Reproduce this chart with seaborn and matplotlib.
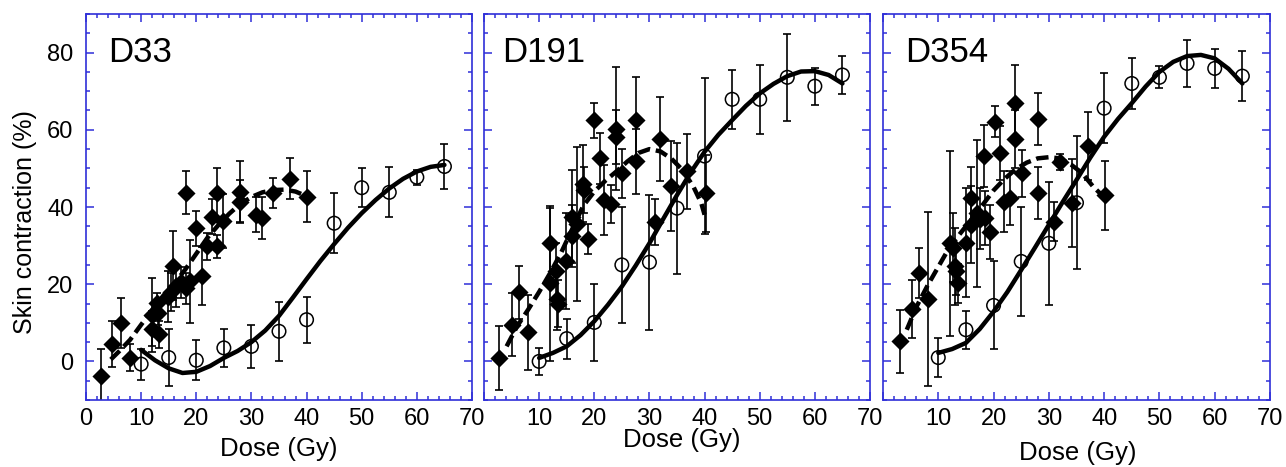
import numpy as np
import pandas as pd
import matplotlib
matplotlib.use("Agg")
import matplotlib.pyplot as plt
import seaborn as sns
from matplotlib.ticker import MultipleLocator

sns.set_theme(style="white")
plt.rcParams["font.family"] = ["Liberation Sans", "DejaVu Sans"]
plt.rcParams["text.color"] = "black"
plt.rcParams["axes.labelcolor"] = "black"

BLUE = "#2f2fd8"

# ---- data ----
panel_names = ["D33", "D191", "D354"]

# open circles (same doses in all three panels)
circ_dose = [10, 15, 20, 25, 30, 35, 40, 45, 50, 55, 60, 65]
d33_circ_val = [-0.7, 1.0, 0.3, 3.5, 3.9, 7.8, 10.8, 35.8, 45.0, 43.8, 47.7, 50.5]
d33_circ_err = [4.0, 7.3, 5.2, 5.0, 5.6, 7.7, 6.0, 7.8, 5.1, 6.5, 2.0, 5.8]
d191_circ_val = [0.0, 5.9, 10.1, 25.0, 25.7, 39.7, 53.2, 67.9, 67.9, 73.6, 71.3, 74.2]
d191_circ_err = [3.6, 5.2, 10.0, 15.0, 17.5, 17.0, 20.3, 7.7, 9.0, 11.2, 4.8, 4.9]
d354_circ_val = [1.0, 8.2, 14.5, 25.9, 30.6, 41.1, 65.6, 72.0, 73.6, 77.2, 75.9, 73.9]
d354_circ_err = [5.0, 4.9, 11.4, 14.2, 16.0, 17.2, 9.0, 6.5, 2.8, 6.0, 5.0, 6.5]

# filled diamonds
d33_dia_dose = [2.8, 4.8, 6.3, 7.9, 11.9, 12.0, 12.8, 13.1, 13.3, 14.8, 15.5, 15.8,
                16.4, 17.2, 18.1, 18.1, 18.9, 19.9, 21.0, 21.9, 22.9, 23.8, 23.7,
                24.9, 27.9, 28.0, 30.8, 32.0, 34.0, 37.0, 40.0]
d33_dia_val = [-3.9, 4.5, 9.9, 1.0, 12.0, 8.5, 15.1, 12.5, 7.0, 16.8, 18.0, 24.8,
               19.5, 20.5, 19.0, 43.7, 20.7, 34.5, 22.2, 29.8, 37.5, 29.8, 43.7,
               36.4, 44.0, 41.4, 38.0, 37.1, 43.6, 47.3, 42.7]
d33_dia_err = [7.2, 6.0, 6.5, 3.4, 9.5, 4.5, 2.5, 3.0, 3.5, 6.5, 5.0, 9.0,
               5.5, 4.0, 4.0, 5.5, 10.8, 4.5, 7.5, 3.5, 4.5, 3.0, 6.5,
               7.0, 8.0, 5.5, 4.5, 5.5, 3.8, 5.3, 6.5]

d191_dia_dose = [2.7, 5.0, 6.4, 7.9, 12.0, 12.0, 13.1, 13.2, 13.4, 14.9, 15.9, 15.9,
                 16.8, 18.0, 18.1, 18.9, 19.9, 21.0, 21.8, 23.0, 23.9, 23.9, 25.0,
                 27.6, 27.6, 31.0, 32.0, 33.9, 36.9, 40.2]
d191_dia_val = [0.9, 9.5, 17.9, 7.5, 30.7, 20.2, 23.3, 16.1, 15.0, 26.0, 37.5, 32.5,
                35.6, 46.0, 44.4, 31.7, 62.5, 52.6, 41.8, 40.8, 60.3, 58.1, 48.7,
                62.6, 51.8, 36.2, 57.6, 45.5, 49.3, 43.6]
d191_dia_err = [8.2, 8.2, 6.9, 9.6, 9.0, 20.0, 7.5, 8.0, 6.0, 12.5, 12.0, 8.0,
                20.0, 10.0, 6.0, 4.0, 4.5, 6.7, 9.0, 5.0, 16.0, 7.0, 6.3,
                11.0, 8.4, 6.0, 10.8, 11.7, 9.7, 10.0]

d354_dia_dose = [3.0, 5.2, 6.6, 8.1, 12.1, 12.6, 13.0, 13.2, 13.6, 15.0, 15.9, 16.0,
                 17.0, 17.6, 18.2, 18.4, 19.3, 20.2, 21.1, 21.9, 23.0, 23.9, 23.9,
                 25.1, 28.1, 28.1, 31.0, 32.1, 34.1, 37.1, 40.2]
d354_dia_val = [5.2, 13.5, 22.9, 16.1, 30.6, 29.5, 24.6, 23.3, 20.2, 30.8, 42.3, 35.4,
                38.4, 37.0, 53.2, 37.1, 33.6, 62.1, 53.9, 41.4, 42.3, 66.9, 57.5,
                48.7, 62.8, 43.7, 36.2, 51.7, 41.1, 55.8, 43.0]
d354_dia_err = [8.2, 7.5, 6.6, 22.6, 24.0, 9.0, 10.0, 6.0, 5.0, 14.0, 8.0, 10.0,
                19.0, 8.0, 8.0, 7.0, 7.0, 4.0, 7.0, 8.0, 7.0, 10.0, 7.5,
                6.0, 6.7, 6.7, 5.0, 2.0, 11.4, 8.8, 9.0]

# solid fit curves (open circles)
solid_dose = [10, 12.5, 15, 17.5, 20, 22.5, 25, 27.5, 30, 32.5, 35, 37.5, 40,
              42.5, 45, 47.5, 50, 52.5, 55, 57.5, 60, 62.5, 65]
d33_solid = [3.0, 0.3, -1.8, -3.0, -2.7, -1.2, 0.9, 2.7, 5.0, 8.0, 11.8, 16.5, 21.3,
             26.0, 30.4, 34.6, 38.4, 41.8, 44.8, 47.3, 49.2, 50.4, 50.9]
d191_solid = [0.9, 2.2, 3.9, 6.8, 10.4, 14.7, 19.4, 24.8, 30.6, 36.9, 43.1, 49.0, 54.3,
              58.7, 62.5, 66.2, 69.4, 71.9, 73.9, 75.1, 75.2, 74.2, 72.0]
d354_solid = [2.2, 3.2, 4.8, 8.4, 12.9, 18.0, 23.7, 29.5, 35.4, 41.3, 47.0, 52.8, 58.2,
              62.8, 66.9, 71.2, 75.0, 77.6, 79.1, 79.4, 78.5, 75.8, 72.0]

# dashed fit curves (filled diamonds)
d33_dash_dose = [4.5, 6, 8, 10, 12, 14, 16, 18, 20, 22, 24, 26, 28, 30, 32, 34, 36, 38, 40]
d33_dash = [0.5, 2.6, 5.6, 9.5, 13.3, 17.0, 20.2, 23.8, 27.9, 32.0, 35.3, 38.3, 40.8,
            42.6, 43.8, 44.4, 44.5, 44.0, 42.8]
d191_dash_dose = [4.1, 6, 8, 10, 12, 14, 16, 18, 20, 22, 24, 26, 28, 30, 32, 34, 36, 38, 39.4, 40]
d191_dash = [3.9, 9.1, 13.4, 18.0, 22.9, 28.2, 34.3, 40.3, 44.0, 46.8, 49.2, 51.8, 54.0,
             55.0, 54.4, 52.5, 49.6, 45.2, 41.0, 38.0]
d354_dash_dose = [4.3, 6, 8, 10, 12, 14, 16, 18, 20, 22, 24, 26, 28, 30, 32, 34, 36, 38, 40]
d354_dash = [8.2, 14.0, 19.5, 24.5, 29.5, 33.2, 36.8, 40.5, 44.3, 47.3, 49.8, 51.5, 52.6,
             52.9, 52.6, 51.0, 48.8, 45.3, 42.5]

panels = [
    (d33_dia_dose, d33_dia_val, d33_dia_err, d33_circ_val, d33_circ_err,
     d33_solid, d33_dash_dose, d33_dash),
    (d191_dia_dose, d191_dia_val, d191_dia_err, d191_circ_val, d191_circ_err,
     d191_solid, d191_dash_dose, d191_dash),
    (d354_dia_dose, d354_dia_val, d354_dia_err, d354_circ_val, d354_circ_err,
     d354_solid, d354_dash_dose, d354_dash),
]

fig = plt.figure(figsize=(12.86, 4.67), dpi=100)
lefts = [86, 484, 883]
widths = [386, 386, 387]
xlab_pos = [(0.5, -0.145), (0.513, -0.122), (0.504, -0.155)]
title_x = [0.058, 0.046, 0.057]

for i, (name, p) in enumerate(zip(panel_names, panels)):
    dia_d, dia_v, dia_e, circ_v, circ_e, solid_v, dash_d, dash_v = p
    ax = fig.add_axes([lefts[i] / 1286, 1 - 400 / 467, widths[i] / 1286, 386 / 467])

    dia = pd.DataFrame({"dose": dia_d, "val": dia_v, "err": dia_e})
    circ = pd.DataFrame({"dose": circ_dose, "val": circ_v, "err": circ_e})
    fit_s = pd.DataFrame({"dose": solid_dose, "val": solid_v})
    fit_d = pd.DataFrame({"dose": dash_d, "val": dash_v})

    # error bars
    ax.errorbar(circ["dose"], circ["val"], yerr=circ["err"], fmt="none", ecolor="black",
                elinewidth=1.2, capsize=3, capthick=1.2, zorder=2)
    ax.errorbar(dia["dose"], dia["val"], yerr=dia["err"], fmt="none", ecolor="black",
                elinewidth=1.2, capsize=3, capthick=1.2, zorder=2)

    sns.scatterplot(data=circ, x="dose", y="val", marker="o", s=95, facecolor="none",
                    edgecolor="black", linewidth=1.1, ax=ax, zorder=3)
    sns.scatterplot(data=dia, x="dose", y="val", marker="D", s=85, color="black",
                    edgecolor="black", linewidth=0, ax=ax, zorder=3)

    sns.lineplot(data=fit_s, x="dose", y="val", color="black", lw=3.2, sort=False,
                 estimator=None, ax=ax, zorder=4, solid_capstyle="round")
    sns.lineplot(data=fit_d, x="dose", y="val", color="black", lw=3.2, sort=False,
                 estimator=None, ax=ax, zorder=4, linestyle=(0, (2.8, 1.3)),
                 dash_capstyle="butt")

    ax.set_xlim(0, 70)
    ax.set_ylim(-10, 90)
    ax.xaxis.set_major_locator(MultipleLocator(10))
    ax.xaxis.set_minor_locator(MultipleLocator(2))
    ax.yaxis.set_major_locator(MultipleLocator(20))
    ax.yaxis.set_minor_locator(MultipleLocator(5))
    ax.tick_params(which="both", direction="in", top=True, right=True, bottom=True,
                   left=True, color=BLUE, width=1.1, labelsize=17, labelcolor="black")
    ax.tick_params(which="major", length=6)
    ax.tick_params(which="minor", length=3)
    ax.tick_params(axis="x", pad=6)
    ax.tick_params(axis="y", pad=9)
    for s in ax.spines.values():
        s.set_color(BLUE)
        s.set_linewidth(1.2)
        s.set_visible(True)

    xt = list(range(0, 71, 10))
    ax.set_xticks(xt)
    if i == 0:
        ax.set_xticklabels([str(v) for v in xt])
        ax.set_yticks([0, 20, 40, 60, 80])
        ax.set_ylabel("Skin contraction (%)", fontsize=18, va="center", color="black")
        ax.yaxis.set_label_coords(-0.158, 0.461)
    else:
        ax.set_xticklabels([""] + [str(v) for v in xt[1:]])
        ax.set_yticks([0, 20, 40, 60, 80])
        ax.set_yticklabels([])
        ax.set_ylabel("")
    ax.set_xlabel("Dose (Gy)", fontsize=18.5, va="baseline", color="black")
    ax.xaxis.set_label_coords(*xlab_pos[i])

    ax.text(title_x[i], 0.876, name, transform=ax.transAxes, fontsize=25,
            ha="left", va="baseline", color="black")
    ax.grid(False)

fig.savefig("out.png", dpi=100)
